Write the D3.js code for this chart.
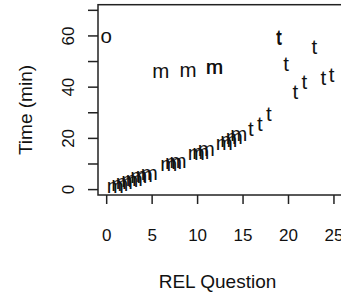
<!DOCTYPE html>
<html>
<head>
<meta charset="utf-8">
<script src="https://cdn.jsdelivr.net/npm/d3@7"></script>
<style>
  html, body { margin: 0; padding: 0; background: #fff; }
  svg { display: block; }
  text { font-family: Arial, "Liberation Sans", sans-serif; fill: #111; }
</style>
</head>
<body>
<svg id="chart" width="341" height="294"></svg>
<script>
// ---- data ----
const xTicks = [0, 5, 10, 15, 20, 25];
const yTicks = [0, 10, 20, 30, 40, 50, 60, 70];
const yTickLabels = [0, 20, 40, 60];

const oX = [0];
const oY = [60];

const mX = [1.0, 1.5, 2.0, 2.6, 3.1, 3.6, 4.2, 4.75,
            6.9, 7.4, 7.9,
            9.9, 10.4, 11.0,
            13.0, 13.5, 14.1, 14.6,
            6.0, 9.0, 11.9, 11.95];
const mY = [1.4, 2.3, 2.8, 3.7, 4.2, 5.1, 5.7, 6.5,
            9.8, 10.6, 11.2,
            14.1, 14.6, 15.6,
            18.2, 19.3, 20.4, 21.7,
            46.4, 46.6, 47.9, 47.7];

const tX = [15.9, 16.9, 17.9, 19.0, 19.03, 19.8, 20.8, 21.8, 22.9, 23.9, 24.8];
const tY = [23.5, 25.5, 29.5, 59.2, 59.5, 49.0, 38.0, 42.0, 55.6, 43.5, 44.8];

const xLabel = "REL Question";
const yLabel = "Time (min)";

// ---- drawing ----
const svg = d3.select("#chart");
const mLeft = 98, mRight = 348, mTop = 4.7, mBottom = 195;

const x = d3.scaleLinear().domain([-0.9, 26.6]).range([mLeft, mRight]);
const y = d3.scaleLinear().domain([-2.3, 72]).range([mBottom, mTop]);

// box
svg.append("rect")
  .attr("x", mLeft).attr("y", mTop)
  .attr("width", mRight - mLeft).attr("height", mBottom - mTop)
  .attr("fill", "none").attr("stroke", "#222").attr("stroke-width", 1.5);

// x axis
const gx = svg.append("g")
  .attr("transform", `translate(0,${mBottom})`)
  .call(d3.axisBottom(x).tickValues(xTicks).tickSize(9).tickPadding(24.5).tickFormat(d3.format("d")));
gx.select(".domain").remove();
gx.selectAll(".tick line").attr("stroke", "#222").attr("stroke-width", 1.5);
gx.selectAll(".tick text").style("font-size", "17px").attr("fill", "#111");

// y axis
const gy = svg.append("g")
  .attr("transform", `translate(${mLeft},0)`)
  .call(d3.axisLeft(y).tickValues(yTicks).tickSize(10)
        .tickFormat(d => yTickLabels.includes(d) ? String(d) : ""));
gy.select(".domain").remove();
gy.selectAll(".tick line").attr("stroke", "#222").attr("stroke-width", 1.5);
gy.selectAll(".tick text")
  .style("font-size", "17px").attr("fill", "#111")
  .attr("transform", "rotate(-90)")
  .attr("x", 0).attr("y", -30).attr("dy", "0.35em")
  .attr("text-anchor", "middle");

// axis titles
svg.append("text")
  .attr("x", 217.5).attr("y", 281).attr("dy", "0.35em")
  .attr("text-anchor", "middle").style("font-size", "19px")
  .text(xLabel);

svg.append("text")
  .attr("transform", "translate(25,110) rotate(-90)")
  .attr("dy", "0.35em")
  .attr("text-anchor", "middle").style("font-size", "19px")
  .text(yLabel);

// point characters
const fs = 20.5;
const capHalf = 0.358 * fs;
function plotChars(xs, ys, ch) {
  svg.append("g").selectAll("text")
    .data(xs.map((v, i) => [v, ys[i]]))
    .join("text")
    .attr("x", d => x(d[0]))
    .attr("y", d => y(d[1]) + capHalf)
    .attr("text-anchor", "middle")
    .style("font-size", fs + "px")
    .text(ch);
}
plotChars(oX, oY, "o");
plotChars(mX, mY, "m");
plotChars(tX, tY, "t");
</script>
</body>
</html>
